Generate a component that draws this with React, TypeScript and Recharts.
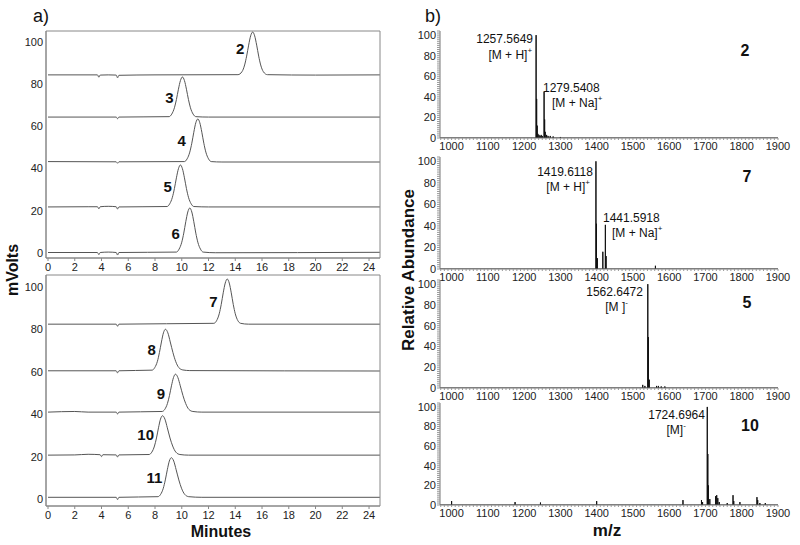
import React from 'react';
import { ComposedChart, Line, Scatter, XAxis, YAxis, ReferenceArea } from 'recharts';

// ---------------- Panel a) HPLC traces ----------------
const minuteTicks = [0, 2, 4, 6, 8, 10, 12, 14, 16, 18, 20, 22, 24];
const mvoltTicks = [0, 20, 40, 60, 80, 100];

type P = [number, number];

const trace2: P[] = [[0, 84.4], [3.7, 84.4], [3.8, 83.3], [3.9, 84.3], [4.5, 84.4], [5.1, 84.3], [5.2, 83.0], [5.3, 84.2], [8, 84.4], [14.2, 84.5], [14.5, 85.9], [14.7, 89.1], [14.85, 93.3], [15.0, 98.5], [15.15, 102.9], [15.3, 104.7], [15.45, 102.9], [15.6, 98.5], [15.75, 93.3], [15.9, 89.1], [16.1, 85.9], [16.4, 84.5], [20, 84.3], [24.8, 84.4]];
const trace3: P[] = [[0, 64.4], [5.1, 64.4], [5.2, 63.6], [5.3, 64.4], [9.05, 64.6], [9.25, 65.8], [9.45, 68.8], [9.6, 72.7], [9.75, 77.6], [9.9, 81.7], [10.05, 83.4], [10.2, 81.7], [10.35, 77.6], [10.5, 72.7], [10.65, 68.8], [10.85, 65.8], [11.05, 64.6], [12, 64.4], [24.8, 64.4]];
const trace4: P[] = [[0, 43.3], [5.1, 43.2], [5.2, 42.5], [5.3, 43.2], [10.2, 43.3], [10.4, 44.6], [10.6, 47.8], [10.75, 52.0], [10.9, 57.2], [11.05, 61.7], [11.2, 63.5], [11.35, 61.7], [11.5, 57.2], [11.65, 52.0], [11.8, 47.8], [12.0, 44.6], [12.2, 43.3], [13, 43.1], [24.8, 43.1]];
const trace5: P[] = [[0, 21.8], [3.0, 21.9], [3.7, 21.9], [3.8, 20.9], [3.9, 21.9], [4.5, 22.1], [5.1, 21.9], [5.2, 20.8], [5.3, 21.8], [8.9, 22.0], [9.1, 23.3], [9.3, 26.4], [9.45, 30.5], [9.6, 35.6], [9.75, 39.9], [9.9, 41.7], [10.05, 39.9], [10.2, 35.6], [10.35, 30.5], [10.5, 26.4], [10.7, 23.3], [10.9, 22.0], [12, 21.8], [24.8, 21.8]];
const trace6: P[] = [[0, 0.2], [3.7, 0.2], [3.8, -0.8], [3.9, 0.2], [4.5, 0.4], [5.1, 0.2], [5.2, -1.0], [5.3, 0.2], [9.6, 0.4], [9.8, 1.8], [10.0, 5.1], [10.15, 9.4], [10.3, 14.8], [10.45, 19.4], [10.6, 21.3], [10.75, 19.4], [10.9, 14.8], [11.05, 9.4], [11.2, 5.1], [11.4, 1.8], [11.6, 0.4], [12.5, 0.1], [24.8, 0.3]];

const trace7: P[] = [[0, 82.5], [5.1, 82.5], [5.2, 81.5], [5.3, 82.5], [12.4, 82.9], [12.6, 84.1], [12.8, 87.4], [12.95, 91.8], [13.1, 97.3], [13.25, 101.9], [13.4, 103.8], [13.55, 101.9], [13.7, 97.3], [13.85, 91.8], [14.0, 87.4], [14.2, 84.1], [14.4, 82.9], [15, 82.5], [24.8, 82.5]];
const trace8: P[] = [[0, 60.5], [5.1, 60.5], [5.2, 59.5], [5.3, 60.5], [7.78, 60.8], [7.98, 62.0], [8.18, 65.0], [8.33, 69.1], [8.48, 74.1], [8.63, 78.4], [8.78, 80.1], [8.96, 78.4], [9.14, 74.1], [9.34, 69.1], [9.54, 65.0], [9.78, 62.0], [10.08, 60.9], [10.6, 60.6], [24.8, 60.4]];
const trace9: P[] = [[0, 41.0], [2.0, 41.3], [3.0, 41.0], [5.1, 41.0], [5.2, 40.1], [5.3, 41.0], [8.53, 41.3], [8.73, 42.3], [8.93, 45.1], [9.08, 48.8], [9.23, 53.4], [9.38, 57.3], [9.53, 58.9], [9.71, 57.3], [9.89, 53.4], [10.09, 48.8], [10.29, 45.1], [10.53, 42.3], [10.83, 41.3], [11.5, 41.0], [24.8, 41.0]];
const trace10: P[] = [[0, 20.7], [2.0, 20.8], [3.0, 21.1], [3.9, 20.9], [4.0, 20.0], [4.1, 20.9], [5.1, 20.8], [5.2, 19.8], [5.3, 20.8], [7.56, 21.0], [7.76, 22.1], [7.96, 25.0], [8.11, 28.8], [8.26, 33.6], [8.41, 37.7], [8.56, 39.3], [8.74, 37.7], [8.92, 33.6], [9.12, 28.8], [9.32, 25.0], [9.56, 22.1], [9.86, 21.0], [10.5, 20.7], [24.8, 20.7]];
const trace11: P[] = [[0, 0.8], [5.1, 0.8], [5.2, -0.3], [5.3, 0.8], [8.22, 1.1], [8.42, 2.2], [8.62, 5.1], [8.77, 9.0], [8.92, 13.8], [9.07, 17.9], [9.22, 19.5], [9.4, 17.9], [9.58, 13.8], [9.78, 9.0], [9.98, 5.1], [10.22, 2.2], [10.52, 1.1], [11.5, 0.8], [24.8, 0.8]];

const topTraces = [trace2, trace3, trace4, trace5, trace6];
const bottomTraces = [trace7, trace8, trace9, trace10, trace11];

const topPeakLabels = [
  { t: 14.36, v: 97.0, label: '2' },
  { t: 9.07, v: 73.8, label: '3' },
  { t: 10.0, v: 53.1, label: '4' },
  { t: 8.95, v: 31.4, label: '5' },
  { t: 9.55, v: 9.3, label: '6' },
];
const bottomPeakLabels = [
  { t: 12.36, v: 93.1, label: '7' },
  { t: 7.75, v: 70.6, label: '8' },
  { t: 8.45, v: 49.8, label: '9' },
  { t: 7.3, v: 30.5, label: '10' },
  { t: 7.95, v: 10.2, label: '11' },
];

// ---------------- Panel b) mass spectra ----------------
const mzDomain: [number, number] = [968, 1900];
const mzTicks: number[] = [];
for (let m = 970; m <= 1900; m += 10) mzTicks.push(m);
const abTicks: number[] = [];
for (let a = 0; a <= 104; a += 2) abTicks.push(a);

const spec2: P[] = [[1233, 100], [1234.5, 38], [1236, 12], [1238, 4], [1241, 3], [1244, 2], [1247, 3], [1250, 2], [1255, 45], [1256.5, 18], [1258, 6], [1262, 3], [1266, 2], [1272, 2], [1280, 1.5], [1300, 1]];
const spec7: P[] = [[1398, 100], [1399.5, 42], [1402, 10], [1417, 16], [1424, 41], [1426, 12], [1562, 3]];
const spec5: P[] = [[1527, 3], [1533, 2], [1541, 100], [1542.5, 49], [1545, 8], [1565, 2], [1570, 2], [1578, 1.5], [1588, 1.5]];
const spec10: P[] = [[1000, 4], [1175, 3], [1245, 2.5], [1400, 4], [1638, 5], [1689, 5], [1692, 3], [1705, 100], [1706.5, 52], [1708, 20], [1712, 6], [1728, 9], [1731, 10], [1734, 7], [1738, 3], [1760, 2], [1776, 10], [1778, 4], [1795, 3], [1842, 8], [1844, 5], [1850, 2], [1865, 2]];

type Note = { mz: number; ab: number; text: string; sup?: string; anchor: 'start' | 'end' | 'middle'; bold?: boolean };

const notes2: Note[] = [
  { mz: 1224.4, ab: 96.2, text: '1257.5649', anchor: 'end' },
  { mz: 1222, ab: 80.2, text: '[M + H]', sup: '+', anchor: 'end' },
  { mz: 1252, ab: 48.6, text: '1279.5408', anchor: 'start' },
  { mz: 1276.8, ab: 34.5, text: '[M + Na]', sup: '+', anchor: 'start' },
  { mz: 1809, ab: 85.5, text: '2', anchor: 'middle', bold: true },
];
const notes7: Note[] = [
  { mz: 1389.8, ab: 90.1, text: '1419.6118', anchor: 'end' },
  { mz: 1381.6, ab: 76.1, text: '[M + H]', sup: '+', anchor: 'end' },
  { mz: 1417.4, ab: 47.4, text: '1441.5918', anchor: 'start' },
  { mz: 1442.2, ab: 33.0, text: '[M + Na]', sup: '+', anchor: 'start' },
  { mz: 1814.4, ab: 86.4, text: '7', anchor: 'middle', bold: true },
];
const notes5: Note[] = [
  { mz: 1527.7, ab: 92.5, text: '1562.6472', anchor: 'end' },
  { mz: 1486.3, ab: 78.0, text: '[M ]', sup: '-', anchor: 'end' },
  { mz: 1814.4, ab: 82.9, text: '5', anchor: 'middle', bold: true },
];
const notes10: Note[] = [
  { mz: 1698.6, ab: 91.3, text: '1724.6964', anchor: 'end' },
  { mz: 1646, ab: 76.0, text: '[M]', sup: '-', anchor: 'end' },
  { mz: 1822.7, ab: 81.6, text: '10', anchor: 'middle', bold: true },
];

const FONT = '"Liberation Sans", Arial, sans-serif';

function toPts(tr: P[]) {
  return tr.map(([t, v]) => ({ t, v }));
}

function sticks(peaks: P[]) {
  const pts = [{ mz: mzDomain[0], ab: 0 }];
  [...peaks].sort((a, b) => a[0] - b[0]).forEach(([mz, ab]) => {
    pts.push({ mz, ab: 0 }, { mz, ab }, { mz, ab: 0 });
  });
  pts.push({ mz: mzDomain[1], ab: 0 });
  return pts;
}

const PeakLabel = (props: any) => {
  const { cx, cy, payload } = props;
  if (cx == null || cy == null) return null;
  return (
    <text x={cx} y={cy} textAnchor="middle" dominantBaseline="central" fontSize={15} fontWeight="bold" fontFamily={FONT} fill="#111">
      {payload.label}
    </text>
  );
};

const NoteLabel = (props: any) => {
  const { cx, cy, payload } = props;
  if (cx == null || cy == null) return null;
  const n: Note = payload;
  return (
    <text x={cx} y={cy} textAnchor={n.anchor} dominantBaseline="central" fontSize={n.bold ? 16 : 12} fontWeight={n.bold ? 'bold' : 'normal'} fontFamily={FONT} fill="#111">
      <tspan>{n.text}</tspan>
      {n.sup ? <tspan fontSize={8} dy={-5}>{n.sup}</tspan> : null}
    </text>
  );
};

const tickStyle = { fontSize: 11, fill: '#222', stroke: 'none', fontFamily: FONT };

function HplcPanel({ traces, labels, top, height, yDomain }: { traces: P[][]; labels: any[]; top: number; height: number; yDomain: [number, number] }) {
  const xDomain: [number, number] = [-0.15, 24.82];
  return (
    <div style={{ position: 'absolute', left: 0, top, width: 390, height }}>
      <ComposedChart width={390} height={height} margin={{ top: 31, right: 10, bottom: 0, left: 0 }}>
        <XAxis dataKey="t" type="number" domain={xDomain} ticks={minuteTicks} interval={0} allowDataOverflow height={22}
          tickSize={3} tickMargin={2} tick={tickStyle} axisLine={{ stroke: '#888' }} tickLine={{ stroke: '#888' }} />
        <YAxis dataKey="v" type="number" domain={yDomain} ticks={mvoltTicks} interval={0} allowDataOverflow width={46}
          tickSize={0} tickMargin={3} tick={tickStyle} axisLine={{ stroke: '#888' }} tickLine={false} />
        <ReferenceArea x1={xDomain[0]} x2={xDomain[1]} y1={yDomain[0]} y2={yDomain[1]} fill="none" stroke="#888" strokeWidth={1} />
        {traces.map((tr, i) => (
          <Line key={i} data={toPts(tr)} dataKey="v" type="monotone" dot={false} stroke="#555" strokeWidth={1} isAnimationActive={false} />
        ))}
        <Scatter data={labels} dataKey="v" shape={PeakLabel} isAnimationActive={false} />
      </ComposedChart>
    </div>
  );
}

function SpecPanel({ peaks, notes, plotTop, plotBottom }: { peaks: P[]; notes: Note[]; plotTop: number; plotBottom: number }) {
  const mt = 5;
  const xh = 20;
  const height = plotBottom - plotTop + mt + xh;
  return (
    <div style={{ position: 'absolute', left: 395, top: plotTop - mt, width: 398, height }}>
      <ComposedChart width={398} height={height} margin={{ top: mt, right: 15, bottom: 0, left: 0 }}>
        <XAxis dataKey="mz" type="number" domain={mzDomain} ticks={mzTicks} interval={0} allowDataOverflow height={xh}
          tickSize={2} tickMargin={2} tickFormatter={(v: number) => (v % 100 === 0 ? String(v) : '')}
          tick={tickStyle} axisLine={{ stroke: '#777' }} tickLine={{ stroke: '#999' }} />
        <YAxis dataKey="ab" type="number" domain={[0, 104]} ticks={abTicks} interval={0} allowDataOverflow width={45}
          tickSize={3} tickMargin={1} tickFormatter={(v: number) => (v % 20 === 0 ? String(v) : '')}
          tick={tickStyle} axisLine={{ stroke: '#777' }} tickLine={{ stroke: '#999' }} />
        <Line data={sticks(peaks)} dataKey="ab" type="linear" dot={false} stroke="#111" strokeWidth={1} isAnimationActive={false} />
        <Scatter data={notes} dataKey="ab" shape={NoteLabel} isAnimationActive={false} />
      </ComposedChart>
    </div>
  );
}

const textBase: React.CSSProperties = { position: 'absolute', fontFamily: FONT, color: '#111', whiteSpace: 'nowrap', lineHeight: 1 };

export default function App() {
  return (
    <div style={{ position: 'absolute', left: 0, top: 0, width: 800, height: 545, background: '#fff', overflow: 'hidden' }}>
      <HplcPanel traces={topTraces} labels={topPeakLabels} top={0} height={280} yDomain={[-2.4, 105.2]} />
      <HplcPanel traces={bottomTraces} labels={bottomPeakLabels} top={244} height={284} yDomain={[-3.3, 105.7]} />

      <SpecPanel peaks={spec2} notes={notes2} plotTop={31} plotBottom={138} />
      <SpecPanel peaks={spec7} notes={notes7} plotTop={157} plotBottom={269} />
      <SpecPanel peaks={spec5} notes={notes5} plotTop={280} plotBottom={388} />
      <SpecPanel peaks={spec10} notes={notes10} plotTop={403} plotBottom={505} />

      <div style={{ ...textBase, left: 33, top: 7, fontSize: 18 }}>a)</div>
      <div style={{ ...textBase, left: 425, top: 7, fontSize: 18 }}>b)</div>
      <div style={{ ...textBase, left: 13, top: 270, fontSize: 16, fontWeight: 'bold', transform: 'translate(-50%, -50%) rotate(-90deg)' }}>mVolts</div>
      <div style={{ ...textBase, left: 408, top: 270, fontSize: 17, fontWeight: 'bold', transform: 'translate(-50%, -50%) rotate(-90deg)' }}>Relative Abundance</div>
      <div style={{ ...textBase, left: 221, top: 532, fontSize: 16, fontWeight: 'bold', transform: 'translate(-50%, -50%)' }}>Minutes</div>
      <div style={{ ...textBase, left: 607, top: 530, fontSize: 17, fontWeight: 'bold', transform: 'translate(-50%, -50%)' }}>m/z</div>
    </div>
  );
}
